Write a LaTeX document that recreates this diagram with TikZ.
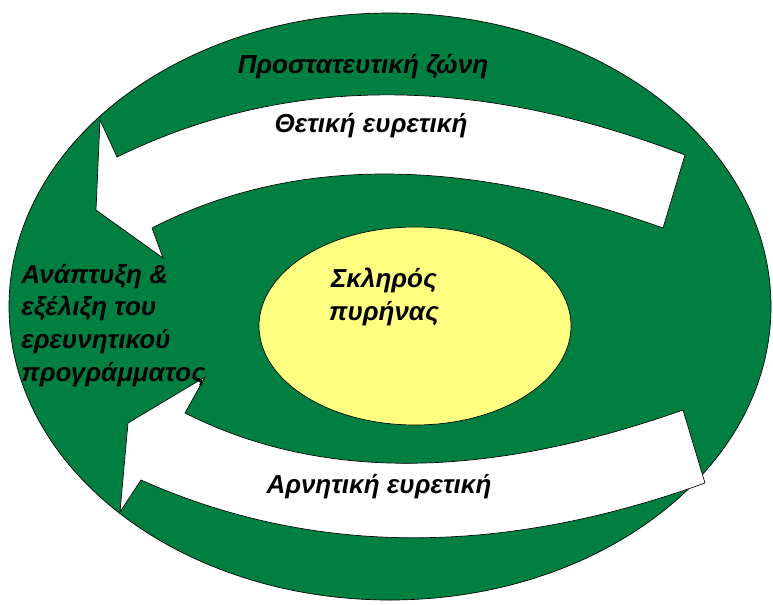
\documentclass[tikz,border=0pt]{standalone}
\usepackage{fontspec}
\setmainfont{Liberation Sans}
\usetikzlibrary{shapes.geometric}
\definecolor{zonegreen}{RGB}{0,128,64}
\definecolor{coreyellow}{RGB}{255,255,128}

\begin{document}
\begin{tikzpicture}[x=0.75pt,y=-0.75pt,line width=0.5pt,
	lbl/.style={font=\bfseries\itshape\fontsize{19.5}{24.5}\selectfont,inner sep=0pt},
	ring/.style={ellipse,draw,inner sep=0pt}]
	\useasboundingbox (0,0) rectangle (773,604);
	\node[ring,fill=zonegreen,minimum width=571.5pt,minimum height=440.25pt] (zone) at (390,306.5) {};
	\node[ring,fill=coreyellow,minimum width=234pt,minimum height=148.5pt] (core) at (415,326) {};
	% positive heuristic, head on the left
	\draw[fill=white] (685,155) .. controls (474,74) and (285,75) .. (117,157)
		-- (100,120) -- (96,210) -- (163,258) -- (152,228)
		.. controls (292,156) and (462,156) .. (663,228) -- cycle;
	% negative heuristic, head up to the left
	\draw[fill=white] (683,410) .. controls (485,480) and (319,481) .. (185,413)
		-- (205,377) -- (128,423) -- (120,512) -- (141,480)
		.. controls (312,556) and (500,557) .. (705,483) -- cycle;
	\node[lbl,anchor=base] (belt) at (363,73) {Προστατευτική ζώνη};
	\node[lbl,anchor=base] (pos) at (371,132) {Θετική ευρετική};
	\node[lbl,anchor=base] (neg) at (379,493) {Αρνητική ευρετική};
	\node[lbl,anchor=base,align=center] (hard) at (384,320) {Σκληρός\\πυρήνας};
	\node[lbl,anchor=base west,align=left] (growth) at (21,381) {Ανάπτυξη \&\\εξέλιξη του\\ερευνητικού\\προγράμματος};
\end{tikzpicture}
\end{document}
